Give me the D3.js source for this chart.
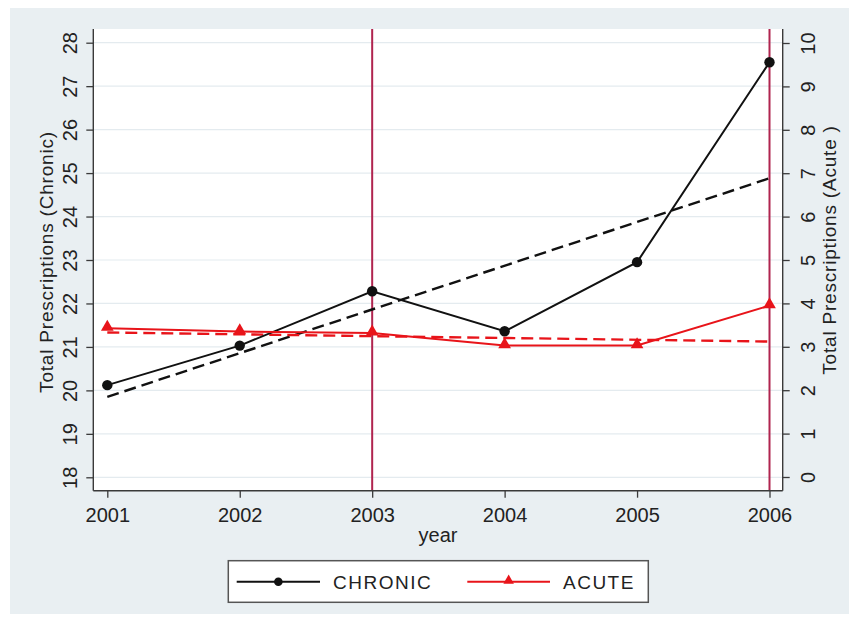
<!DOCTYPE html>
<html>
<head>
<meta charset="utf-8">
<script src="https://cdn.jsdelivr.net/npm/d3@7/dist/d3.min.js"></script>
<style>
  html, body { margin: 0; padding: 0; background: #ffffff; }
  svg { display: block; }
  text { font-family: "Liberation Sans", Arial, sans-serif; fill: #222222; }
</style>
</head>
<body>
<svg id="chart" width="855" height="626"></svg>
<script>
// ---- data ----
const years = [2001, 2002, 2003, 2004, 2005, 2006];
const chronic = [20.12, 21.03, 22.28, 21.36, 22.95, 27.55];
const acute = [3.43, 3.35, 3.32, 3.03, 3.03, 3.95];
// fitted trend lines, given at their end years
const fitYears = [2001, 2006];
const chronicFit = [19.85, 24.88];
const acuteFit = [3.33, 3.12];
// reference years marked by vertical lines
const markYears = [2003, 2006];
const leftTicks = [18, 19, 20, 21, 22, 23, 24, 25, 26, 27, 28];
const rightTicks = [0, 1, 2, 3, 4, 5, 6, 7, 8, 9, 10];
const seriesNames = ["CHRONIC", "ACUTE"];

// ---- layout ----
const plot = { left: 93.3, right: 782.7, top: 29, bottom: 490.7 };
const colBlack = "#111111";
const colRed = "#e8141a";
const colMark = "#b0244f";
const colAxis = "#3a3a3a";
const tickFont = 20;
const fontSize = 19;

const svg = d3.select("#chart");

// outer graph region
svg.append("rect").attr("x", 10).attr("y", 8).attr("width", 839).attr("height", 606)
  .attr("fill", "#e9eff2");
// plot region
svg.append("rect").attr("x", plot.left).attr("y", plot.top)
  .attr("width", plot.right - plot.left).attr("height", plot.bottom - plot.top)
  .attr("fill", "#ffffff");

const x = d3.scaleLinear().domain([2001, 2006]).range([107.3, 769.5]);
const yL = d3.scaleLinear().domain([18, 28]).range([477.3, 42.7]);
const yR = d3.scaleLinear().domain([0, 10]).range([477.0, 43.0]);

// horizontal grid
svg.append("g").selectAll("line").data(leftTicks).join("line")
  .attr("x1", plot.left).attr("x2", plot.right)
  .attr("y1", d => yL(d)).attr("y2", d => yL(d))
  .attr("stroke", "#e4ebef").attr("stroke-width", 1.2);

// vertical reference lines
svg.append("g").selectAll("line").data(markYears).join("line")
  .attr("x1", d => x(d)).attr("x2", d => x(d))
  .attr("y1", plot.top).attr("y2", plot.bottom)
  .attr("stroke", colMark).attr("stroke-width", 2);

// axes
const gL = svg.append("g").attr("transform", `translate(${plot.left},0)`)
  .call(d3.axisLeft(yL).tickValues(leftTicks).tickSize(7).tickSizeOuter(0).tickFormat(d3.format("d")));
const gR = svg.append("g").attr("transform", `translate(${plot.right},0)`)
  .call(d3.axisRight(yR).tickValues(rightTicks).tickSize(7).tickSizeOuter(0).tickFormat(d3.format("d")));
const gB = svg.append("g").attr("transform", `translate(0,${plot.bottom})`)
  .call(d3.axisBottom(x).tickValues(years).tickSize(7).tickSizeOuter(0).tickFormat(d3.format("d")));

[gL, gR, gB].forEach(g => {
  g.select(".domain").remove();
  g.selectAll(".tick line").attr("stroke", colAxis).attr("stroke-width", 1.3);
  g.selectAll(".tick text").attr("font-size", tickFont).attr("fill", "#222222")
    .style("font-family", "'Liberation Sans', Arial, sans-serif");
});
gL.selectAll(".tick text").attr("x", 0).attr("dy", 0).attr("y", -16.3)
  .attr("text-anchor", "middle").attr("transform", "rotate(-90)");
gR.selectAll(".tick text").attr("x", 0).attr("dy", 0).attr("y", 32)
  .attr("text-anchor", "middle").attr("transform", "rotate(-90)");
gB.selectAll(".tick text").attr("dy", 0).attr("y", 31.5);

// axis lines
const axisLines = [
  [plot.left, plot.top, plot.left, plot.bottom],
  [plot.right, plot.top, plot.right, plot.bottom],
  [plot.left, plot.bottom, plot.right, plot.bottom]
];
svg.append("g").selectAll("line").data(axisLines).join("line")
  .attr("x1", d => d[0]).attr("y1", d => d[1]).attr("x2", d => d[2]).attr("y2", d => d[3])
  .attr("stroke", colAxis).attr("stroke-width", 1.4);

// axis titles
svg.append("text").attr("transform", "translate(53,262) rotate(-90)")
  .attr("text-anchor", "middle").attr("font-size", fontSize).attr("letter-spacing", 0.8)
  .text("Total Prescriptions (Chronic)");
svg.append("text").attr("transform", "translate(836,250) rotate(-90)")
  .attr("text-anchor", "middle").attr("font-size", fontSize).attr("letter-spacing", 0.8)
  .text("Total Prescriptions (Acute )");
svg.append("text").attr("x", 438).attr("y", 542)
  .attr("text-anchor", "middle").attr("font-size", tickFont).text("year");

// fitted trend lines
const fitLine = (ys, yScale) => d3.line().x((d, i) => x(fitYears[i])).y(d => yScale(d))(ys);
svg.append("path").attr("d", fitLine(chronicFit, yL))
  .attr("fill", "none").attr("stroke", colBlack).attr("stroke-width", 2.4)
  .attr("stroke-dasharray", "12 6");
svg.append("path").attr("d", fitLine(acuteFit, yR))
  .attr("fill", "none").attr("stroke", colRed).attr("stroke-width", 2.4)
  .attr("stroke-dasharray", "12 6");

// observed series
const seriesLine = (vals, yScale) => d3.line().x((d, i) => x(years[i])).y(d => yScale(d))(vals);
svg.append("path").attr("d", seriesLine(chronic, yL))
  .attr("fill", "none").attr("stroke", colBlack).attr("stroke-width", 2);
svg.append("path").attr("d", seriesLine(acute, yR))
  .attr("fill", "none").attr("stroke", colRed).attr("stroke-width", 2);

svg.append("g").selectAll("circle").data(chronic).join("circle")
  .attr("cx", (d, i) => x(years[i])).attr("cy", d => yL(d)).attr("r", 5.2)
  .attr("fill", colBlack);
const tri = d3.symbol().type(d3.symbolTriangle).size(70);
svg.append("g").selectAll("path").data(acute).join("path")
  .attr("d", tri)
  .attr("transform", (d, i) => `translate(${x(years[i])},${yR(d) - 1})`)
  .attr("fill", colRed);

// legend
const lg = svg.append("g");
lg.append("rect").attr("x", 228.3).attr("y", 560.7).attr("width", 420).attr("height", 41.6)
  .attr("fill", "#ffffff").attr("stroke", "#555555").attr("stroke-width", 1.5);
const legendItems = [
  { name: seriesNames[0], color: colBlack, x1: 236.7, x2: 320, tx: 333, marker: "circle" },
  { name: seriesNames[1], color: colRed, x1: 467.3, x2: 550, tx: 563, marker: "triangle" }
];
const ly = 581.7;
legendItems.forEach(it => {
  lg.append("line").attr("x1", it.x1).attr("x2", it.x2).attr("y1", ly).attr("y2", ly)
    .attr("stroke", it.color).attr("stroke-width", 2);
  const mx = (it.x1 + it.x2) / 2;
  if (it.marker === "circle") {
    lg.append("circle").attr("cx", mx).attr("cy", ly).attr("r", 4.3).attr("fill", it.color);
  } else {
    lg.append("path").attr("d", d3.symbol().type(d3.symbolTriangle).size(48))
      .attr("transform", `translate(${mx},${ly - 1})`).attr("fill", it.color);
  }
  lg.append("text").attr("x", it.tx).attr("y", ly + 7).attr("font-size", fontSize)
    .attr("letter-spacing", 1.5).text(it.name);
});
</script>
</body>
</html>
